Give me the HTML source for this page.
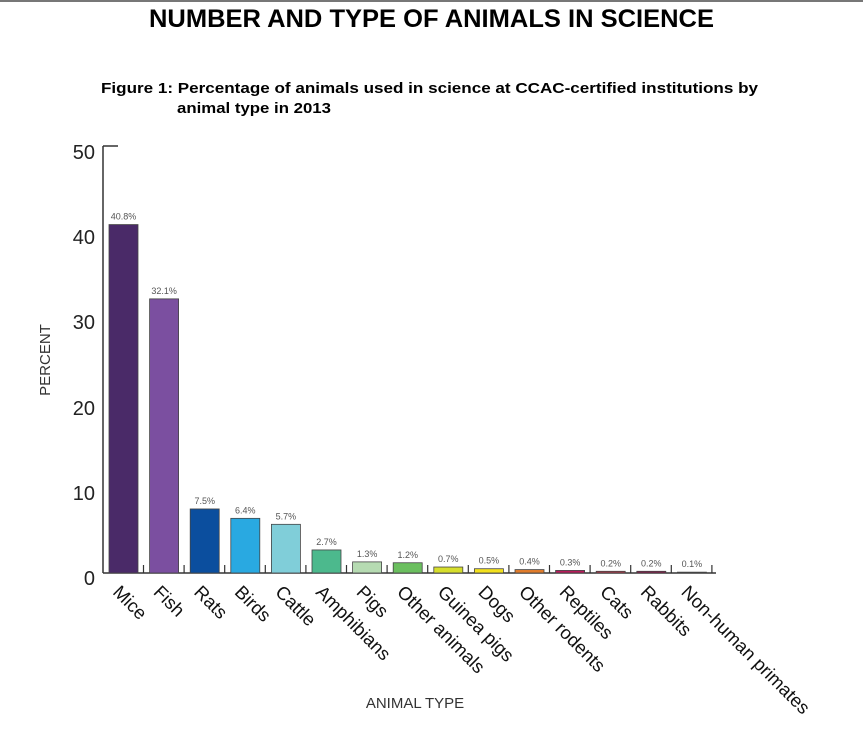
<!DOCTYPE html>
<html><head><meta charset="utf-8"><style>
html,body{margin:0;padding:0;background:#fff;width:863px;height:731px;overflow:hidden}
svg{display:block}
</style></head><body>
<svg width="863" height="731" viewBox="0 0 863 731" xmlns="http://www.w3.org/2000/svg" font-family="Liberation Sans, Arial, sans-serif">
<rect x="0" y="0" width="863" height="2" fill="#777"/>
<text x="149" y="27" font-size="25" font-weight="bold" textLength="565" lengthAdjust="spacingAndGlyphs">NUMBER AND TYPE OF ANIMALS IN SCIENCE</text>
<text x="101" y="93" font-size="15" font-weight="bold" textLength="657" lengthAdjust="spacingAndGlyphs">Figure 1: Percentage of animals used in science at CCAC-certified institutions by</text>
<text x="177" y="113" font-size="15" font-weight="bold" textLength="154" lengthAdjust="spacingAndGlyphs">animal type in 2013</text>
<line x1="103" y1="146" x2="103" y2="573" stroke="#333" stroke-width="1.5"/>
<line x1="103" y1="146" x2="118" y2="146" stroke="#333" stroke-width="1.5"/>
<line x1="103" y1="573" x2="716" y2="573" stroke="#333" stroke-width="1.5"/>
<g font-size="20" fill="#222" text-anchor="end">
<text x="95" y="159">50</text>
<text x="95" y="244">40</text>
<text x="95" y="329">30</text>
<text x="95" y="415">20</text>
<text x="95" y="500">10</text>
<text x="95" y="585">0</text>
</g>
<text transform="translate(50,360) rotate(-90)" font-size="15" fill="#333" text-anchor="middle">PERCENT</text>
<text x="415" y="708" font-size="15" fill="#333" text-anchor="middle">ANIMAL TYPE</text>
<g id="bars"></g>
</svg>
<script>
var d=[["Mice",40.8,"#4a2a68"],["Fish",32.1,"#7b4fa0"],["Rats",7.5,"#0b4e9e"],["Birds",6.4,"#29a9e1"],["Cattle",5.7,"#80ced9"],["Amphibians",2.7,"#4cb98d"],["Pigs",1.3,"#b6dbb2"],["Other animals",1.2,"#6bbf5f"],["Guinea pigs",0.7,"#d6de2c"],["Dogs",0.5,"#f3e11d"],["Other rodents",0.4,"#e07c2c"],["Reptiles",0.3,"#b71c5b"],["Cats",0.2,"#b23b4b"],["Rabbits",0.2,"#8a1b4c"],["Non-human primates",0.1,"#555"]];
var g=document.getElementById("bars"),s="";
for(var i=0;i<d.length;i++){
 var x=109+40.6*i,h=d[i][1]*8.54,y=573-h;
 s+='<rect x="'+x+'" y="'+y+'" width="29" height="'+h+'" fill="'+d[i][2]+'" stroke="#444" stroke-width="0.8"/>';
 s+='<line x1="'+(x+34.5)+'" y1="565" x2="'+(x+34.5)+'" y2="573" stroke="#333" stroke-width="1.2"/>';
 s+='<text x="'+(x+14.5)+'" y="'+(y-5)+'" font-size="9" fill="#555" text-anchor="middle">'+d[i][1].toFixed(1)+'%</text>';
 s+='<text transform="translate('+(x+12)+',584) rotate(45)" font-size="18.5" fill="#111" dy="0.7em">'+d[i][0]+'</text>';
}
g.innerHTML=s;
</script>
</body></html>
